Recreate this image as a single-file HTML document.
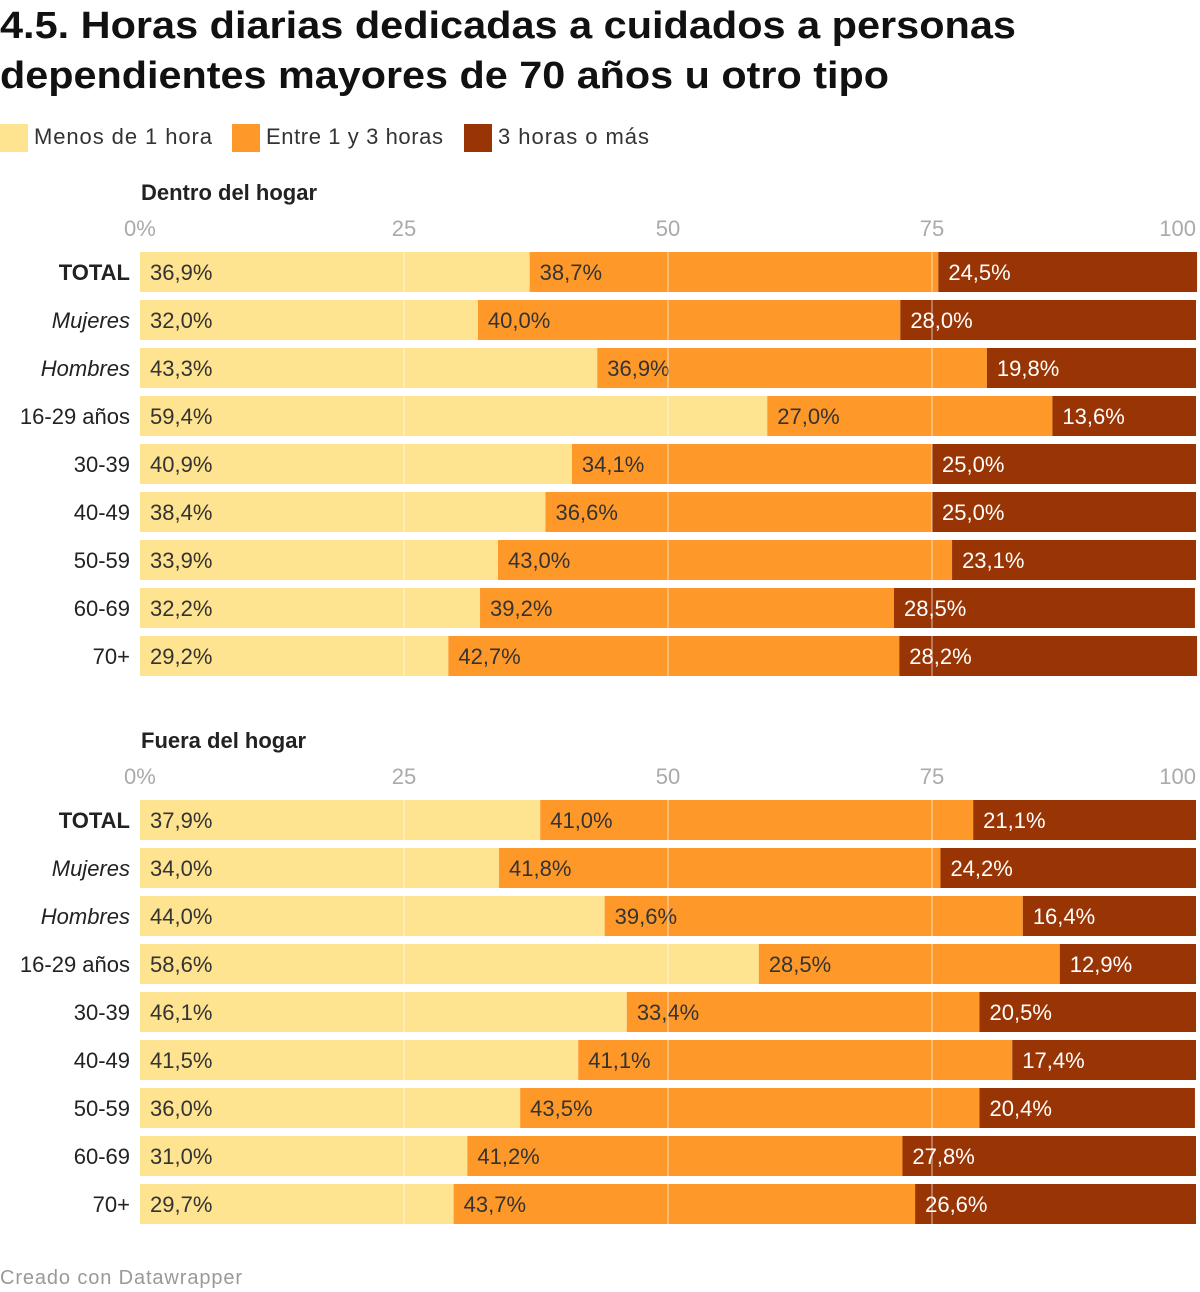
<!DOCTYPE html>
<html><head><meta charset="utf-8"><style>
body{margin:0;background:#fff;width:1200px;height:1292px;overflow:hidden;font-family:"Liberation Sans",sans-serif}
</style></head><body>
<svg id="c" width="1200" height="1292" style="position:absolute;left:0;top:0">
<text x="0" y="38" font-size="38" font-weight="bold" fill="#111" textLength="1016" lengthAdjust="spacingAndGlyphs">4.5. Horas diarias dedicadas a cuidados a personas</text>
<text x="0" y="88" font-size="38" font-weight="bold" fill="#111" textLength="889" lengthAdjust="spacingAndGlyphs">dependientes mayores de 70 años u otro tipo</text>
<g font-size="22" fill="#333">
<rect x="0" y="124" width="28" height="28" fill="#fee391"/>
<text x="34" y="144" textLength="178">Menos de 1 hora</text>
<rect x="232" y="124" width="28" height="28" fill="#fe9929"/>
<text x="266" y="144" textLength="177">Entre 1 y 3 horas</text>
<rect x="464" y="124" width="28" height="28" fill="#993404"/>
<text x="498" y="144" textLength="151">3 horas o más</text>
</g>
<text x="0" y="1284" font-size="20" fill="#999" textLength="242">Creado con Datawrapper</text>
</svg>
<script>
const categories=["TOTAL","Mujeres","Hombres","16-29 años","30-39","40-49","50-59","60-69","70+"];
const panelTitles=["Dentro del hogar","Fuera del hogar"];
const tickValues=[0,25,50,75,100];
const tickLabels=["0%","25","50","75","100"];
const dentroMenos1=[36.9,32.0,43.3,59.4,40.9,38.4,33.9,32.2,29.2];
const dentro1a3=[38.7,40.0,36.9,27.0,34.1,36.6,43.0,39.2,42.7];
const dentro3mas=[24.5,28.0,19.8,13.6,25.0,25.0,23.1,28.5,28.2];
const fueraMenos1=[37.9,34.0,44.0,58.6,46.1,41.5,36.0,31.0,29.7];
const fuera1a3=[41.0,41.8,39.6,28.5,33.4,41.1,43.5,41.2,43.7];
const fuera3mas=[21.1,24.2,16.4,12.9,20.5,17.4,20.4,27.8,26.6];
const panels=[[dentroMenos1,dentro1a3,dentro3mas],[fueraMenos1,fuera1a3,fuera3mas]];
const colors=["#fee391","#fe9929","#993404"];
const txtColors=["#333","#333","#fff"];
const svg=document.getElementById('c');const NS="http://www.w3.org/2000/svg";
const x=v=>140+v*10.56;
function mk(t,a,txt){const e=document.createElementNS(NS,t);for(const k in a)e.setAttribute(k,a[k]);if(txt!=null)e.textContent=txt;svg.appendChild(e);return e;}
panels.forEach((series,p)=>{
 const top=p===0?252:800;
 const t=mk('text',{x:141,y:top-52,'font-size':22,'font-weight':'bold',fill:'#222'},panelTitles[p]);
 
 
 tickValues.forEach((v,i)=>{
  const tl=mk('text',{x:x(v),y:top-16,'font-size':22,fill:'#aaa','text-anchor':i===0?'start':(i===4?'end':'middle')},tickLabels[i]);
  
  
  if(i===0)tl.setAttribute('x',x(v)-16);
 });
 categories.forEach((c,r)=>{
  const y=top+r*48;
  const cl=mk('text',{x:130,y:y+28,'font-size':22,fill:'#222','text-anchor':'end','font-weight':r===0?'bold':'normal','font-style':(r===1||r===2)?'italic':'normal'},c);
  
  
  let acc=0;
  series.forEach((s,k)=>{
   const v=s[r];
   const b=mk('rect',{x:x(acc),y:y,width:v*10.56,height:40,fill:colors[k]});
   
   
   const lb=mk('text',{x:x(acc)+10,y:y+28,'font-size':22,fill:txtColors[k]},v.toFixed(1).replace('.',',')+'%');
   
   
   acc+=v;
  });
 });
 [25,50,75].forEach(v=>{
  const g=mk('line',{x1:x(v),x2:x(v),y1:top,y2:top+8*48+40,stroke:'#fff','stroke-opacity':0.45,'stroke-width':1.5});
  
  
 });
});
</script>
</body></html>
